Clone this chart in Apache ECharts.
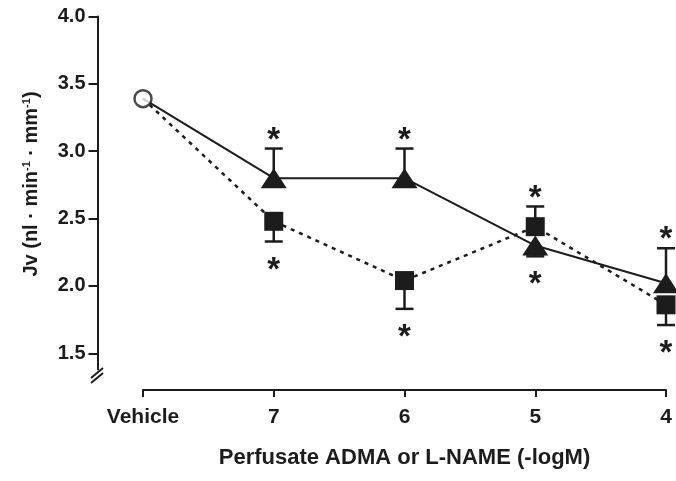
<!DOCTYPE html>
<html>
<head>
<meta charset="utf-8">
<script src="https://cdn.jsdelivr.net/npm/echarts@6/dist/echarts.min.js"></script>
<style>
  html, body { margin: 0; padding: 0; background: #fff; }
  #chart { width: 676px; height: 481px; }
</style>
</head>
<body>
<div id="chart"></div>
<script>
// values
const categories = ['Vehicle', '7', '6', '5', '4'];
const yTicks = [1.5, 2.0, 2.5, 3.0, 3.5, 4.0];
const vehicleValue = 3.39;
const triangleMean = [3.39, 2.80, 2.80, 2.30, 2.02];   // solid line
const triangleErrEnd = [null, 3.02, 3.02, 2.22, 2.28];
const squareMean = [3.39, 2.48, 2.04, 2.44, 1.86];     // dashed line
const squareErrEnd = [null, 2.33, 1.83, 2.59, 1.71];

const ink = '#1c1c1c';
const font = '"Liberation Sans", Arial, Helvetica, sans-serif';

const chart = echarts.init(document.getElementById('chart'), null, { renderer: 'canvas' });

function errRows(mean, ends) {
  const rows = [];
  ends.forEach(function (e, i) {
    if (e != null) rows.push([i, mean[i], e]);
  });
  return rows;
}

function errorBarItem(params, api) {
  const x = api.value(0);
  const p0 = api.coord([x, api.value(1)]);
  const p1 = api.coord([x, api.value(2)]);
  const half = 9;
  const st = { stroke: ink, lineWidth: 2.5 };
  return {
    type: 'group',
    children: [
      { type: 'line', shape: { x1: p0[0], y1: p0[1], x2: p1[0], y2: p1[1] }, style: st },
      { type: 'line', shape: { x1: p1[0] - half, y1: p1[1], x2: p1[0] + half, y2: p1[1] }, style: st }
    ]
  };
}

// significance asterisk just beyond the error bar end
function starItem(params, api) {
  const x = api.value(0);
  const mean = api.value(1);
  const end = api.value(2);
  const p = api.coord([x, end]);
  const up = end > mean;
  return {
    type: 'text',
    x: p[0],
    y: p[1] + (up ? -8 : 29),
    style: {
      text: '*', fontSize: 33, fontWeight: 'bold', fontFamily: font,
      fill: ink, align: 'center', verticalAlign: 'middle'
    }
  };
}

function firstHidden(arr) {
  return arr.map(function (v, i) { return i === 0 ? { value: v, symbol: 'none' } : v; });
}

const option = {
  animation: false,
  backgroundColor: '#fff',
  grid: { left: 143, right: 10, top: 16.5, bottom: 111.5, outerBoundsMode: 'none' },
  xAxis: {
    type: 'category',
    data: categories,
    boundaryGap: false,
    offset: 20.5,
    axisLine: { lineStyle: { color: ink, width: 2 } },
    axisTick: { length: 7, lineStyle: { color: ink, width: 2 } },
    axisLabel: { color: ink, fontSize: 21, fontWeight: 'bold', fontFamily: font, margin: 17 },
    name: 'Perfusate ADMA or L-NAME (-logM)',
    nameLocation: 'middle',
    nameGap: 57,
    nameTextStyle: { color: ink, fontSize: 22, fontWeight: 'bold', fontFamily: font },
    splitLine: { show: false }
  },
  yAxis: {
    type: 'value',
    min: 1.38,
    max: 4.0,
    offset: 45.5,
    axisLine: { show: true, lineStyle: { color: ink, width: 2 } },
    axisTick: { show: true, length: 9, customValues: yTicks, lineStyle: { color: ink, width: 2 } },
    axisLabel: {
      color: ink, fontSize: 20, fontWeight: 'bold', fontFamily: font, margin: 12,
      customValues: yTicks,
      formatter: function (v) { return v.toFixed(1); }
    },
    splitLine: { show: false },
    name: 'Jv (nl · min{sup|-1} · mm{sup|-1})',
    nameLocation: 'middle',
    nameGap: 56,
    nameTextStyle: {
      color: ink, fontSize: 20, fontWeight: 'bold', fontFamily: font,
      padding: [0, 0, 0, 18],
      rich: { sup: { fontSize: 11, fontWeight: 'bold', fontFamily: font, color: ink, verticalAlign: 'top', padding: [0, 0, 8, 0] } }
    }
  },
  graphic: [
    // axis break marks at the foot of the y axis
    { type: 'line', shape: { x1: 91, y1: 378, x2: 103, y2: 368 }, style: { stroke: ink, lineWidth: 2 } },
    { type: 'line', shape: { x1: 91, y1: 383, x2: 103, y2: 373 }, style: { stroke: ink, lineWidth: 2 } }
  ],
  series: [
    {
      type: 'custom',
      renderItem: errorBarItem,
      data: errRows(triangleMean, triangleErrEnd),
      z: 1, silent: true
    },
    {
      type: 'custom',
      renderItem: errorBarItem,
      data: errRows(squareMean, squareErrEnd),
      z: 1, silent: true
    },
    {
      name: 'triangle',
      type: 'line',
      data: firstHidden(triangleMean),
      symbol: 'triangle',
      symbolSize: [26, 20],
      showAllSymbol: true,
      lineStyle: { color: ink, width: 2 },
      itemStyle: { color: ink },
      z: 3
    },
    {
      name: 'square',
      type: 'line',
      data: firstHidden(squareMean),
      symbol: 'rect',
      symbolSize: 19,
      showAllSymbol: true,
      lineStyle: { color: ink, width: 2.5, type: [4, 5] },
      itemStyle: { color: ink },
      z: 4
    },
    {
      type: 'scatter',
      data: [[0, vehicleValue]],
      symbol: 'circle',
      symbolSize: 17,
      itemStyle: { color: '#fff', borderColor: ink, borderWidth: 2.5 },
      z: 5
    },
    {
      type: 'custom',
      renderItem: starItem,
      data: errRows(triangleMean, triangleErrEnd).concat(errRows(squareMean, squareErrEnd)),
      z: 6, silent: true
    }
  ]
};

chart.setOption(option);
</script>
</body>
</html>
